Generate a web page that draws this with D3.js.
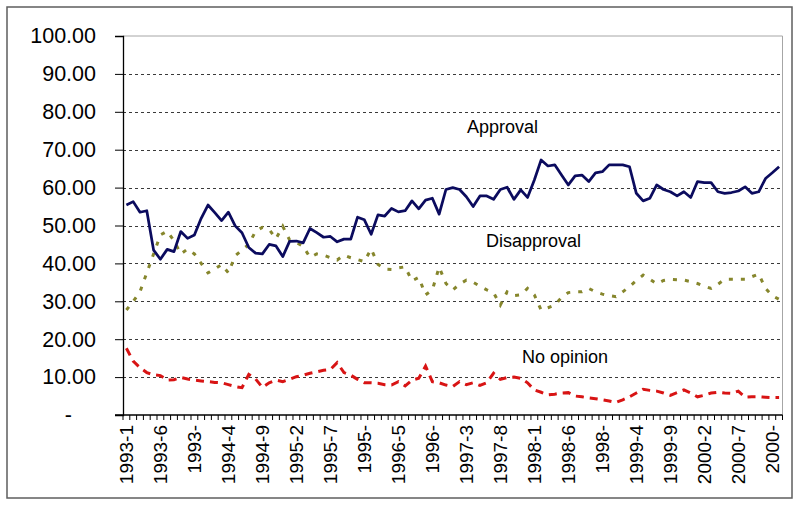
<!DOCTYPE html>
<html>
<head>
<meta charset="utf-8">
<script src="https://cdn.jsdelivr.net/npm/d3@7"></script>
<style>
  body { margin: 0; background: #fff; }
  text { font-family: "Liberation Sans", Arial, sans-serif; fill: #000; }
</style>
</head>
<body>
<div id="chart"></div>
<script>
// monthly categories from 1993-1, 97 of them
let categories = [];
for (let i = 0; i < 97; i++) {
  categories.push((1993 + Math.floor(i / 12)) + "-" + (i % 12 + 1));
}

// the labels excel actually shows (every 5th month, long ones clipped)
let tickLabels = ["1993-1", "1993-6", "1993-", "1994-4", "1994-9", "1995-2", "1995-7", "1995-",
  "1996-5", "1996-", "1997-3", "1997-8", "1998-1", "1998-6", "1998-", "1999-4", "1999-9",
  "2000-2", "2000-7", "2000-"];

let yTicks = [0, 10, 20, 30, 40, 50, 60, 70, 80, 90, 100];

let approval = [55.4, 56.3, 53.5, 53.9, 43.5, 41.1, 43.7, 43.1, 48.4, 46.6,
  47.5, 51.9, 55.4, 53.4, 51.3, 53.5, 49.9, 48.1, 44.2, 42.7,
  42.5, 45.0, 44.6, 41.8, 45.8, 45.9, 45.4, 49.2, 48.1, 46.9,
  47.1, 45.7, 46.4, 46.4, 52.2, 51.5, 47.7, 52.8, 52.5, 54.5,
  53.6, 53.9, 56.5, 54.4, 56.7, 57.2, 53.0, 59.5, 60.0, 59.5,
  57.6, 55.0, 57.8, 57.8, 56.9, 59.5, 60.1, 56.9, 59.4, 57.4,
  62.0, 67.3, 65.7, 66.0, 63.3, 60.7, 63.1, 63.3, 61.6, 63.9,
  64.2, 66.0, 66.0, 66.0, 65.5, 58.5, 56.5, 57.2, 60.7, 59.5,
  58.9, 57.8, 58.9, 57.4, 61.6, 61.3, 61.3, 58.9, 58.5, 58.7,
  59.1, 60.2, 58.5, 58.9, 62.4, 63.9, 65.5];

let disapproval = [27.7, 30.0, 32.5, 37.5, 42.5, 47.5, 48.5, 46.0, 42.5, 43.8,
  42.5, 40.0, 37.5, 38.5, 39.7, 37.5, 42.0, 43.5, 45.0, 48.5,
  49.5, 49.0, 46.5, 49.8, 46.2, 45.5, 44.5, 41.6, 42.5, 42.2,
  41.5, 40.9, 42.2, 41.5, 41.0, 40.5, 43.8, 39.8, 38.5, 38.4,
  38.8, 39.1, 35.4, 36.3, 31.7, 33.0, 39.0, 34.7, 33.0, 34.5,
  35.6, 35.0, 34.0, 33.0, 32.3, 29.0, 32.5, 31.5, 31.7, 33.4,
  31.7, 27.7, 28.3, 29.0, 31.0, 32.3, 32.5, 32.5, 33.4, 32.5,
  31.9, 31.5, 31.2, 32.5, 33.9, 35.5, 36.9, 35.8, 34.6, 35.5,
  35.8, 35.7, 35.6, 35.2, 34.7, 34.0, 33.4, 34.5, 35.8, 35.8,
  35.8, 35.8, 36.5, 37.2, 33.4, 31.5, 30.5];

let noOpinion = [17.6, 14.2, 12.5, 11.2, 10.6, 10.4, 9.2, 9.3, 9.9, 9.5,
  9.2, 9.0, 8.8, 8.6, 8.5, 8.0, 7.5, 7.2, 10.7, 9.5,
  7.3, 8.5, 9.2, 8.8, 9.4, 10.1, 10.5, 11.0, 11.4, 11.8,
  12.0, 13.8, 11.2, 10.5, 9.4, 8.5, 8.5, 8.4, 8.0, 7.9,
  8.8, 7.7, 9.2, 9.7, 12.9, 8.8, 8.5, 7.9, 7.5, 8.8,
  8.0, 8.5, 7.8, 8.5, 11.0, 9.4, 9.9, 10.0, 9.7, 8.5,
  6.6, 6.0, 5.3, 5.5, 5.8, 5.9, 5.0, 4.8, 4.5, 4.3,
  4.0, 3.7, 3.3, 4.0, 4.8, 5.8, 6.8, 6.5, 6.3, 5.8,
  5.2, 5.9, 6.6, 5.8, 4.8, 5.2, 5.8, 6.0, 5.8, 5.7,
  6.3, 4.7, 4.8, 4.8, 4.7, 4.6, 4.6];

let seriesNames = ["Approval", "Disapproval", "No opinion"];

let width = 800,
  height = 506;

let plot = { left: 123, right: 782.5, top: 36, bottom: 415 };

let svg = d3.select("#chart")
  .append("svg")
  .attr("width", width)
  .attr("height", height);

// outer chart frame
svg.append("rect")
  .attr("x", 7)
  .attr("y", 7)
  .attr("width", 785)
  .attr("height", 491)
  .attr("fill", "white")
  .attr("stroke", "#5e5e5e")
  .attr("stroke-width", 1.5);

var x = d3.scaleBand().domain(categories).range([plot.left, plot.right]);
var y = d3.scaleLinear().domain([0, 100]).range([plot.bottom, plot.top]);

// plot area border (grey, top and right)
svg.append("path")
  .attr("d", "M" + plot.left + "," + y(100) + "H" + plot.right + "V" + plot.bottom)
  .attr("fill", "none")
  .attr("stroke", "#a6a6a6")
  .attr("stroke-width", 1);

// dashed gridlines
svg.append("g")
  .selectAll("line")
  .data(yTicks.filter(d => d > 0 && d < 100))
  .join("line")
  .attr("x1", plot.left)
  .attr("x2", plot.right)
  .attr("y1", d => Math.round(y(d)) + 0.5)
  .attr("y2", d => Math.round(y(d)) + 0.5)
  .attr("stroke", "#3a3a3a")
  .attr("stroke-width", 1)
  .attr("stroke-dasharray", "3,3");

// y axis
let yAxis = svg.append("g")
  .attr("transform", "translate(" + plot.left + ",0)")
  .call(d3.axisLeft(y)
    .tickValues(yTicks)
    .tickSize(8)
    .tickPadding(19)
    .tickFormat(d => d === 0 ? "-" : d.toFixed(2)));
yAxis.select(".domain").attr("stroke", "#000").attr("stroke-width", 1.3);
yAxis.selectAll(".tick line").attr("stroke", "#000");
yAxis.selectAll(".tick text")
  .style("font-size", "21.5px")
  .attr("dx", d => d === 0 ? -24 : 0);

// x axis: ticks between categories, labels every 5th month
let xAxis = svg.append("g")
  .attr("transform", "translate(0," + plot.bottom + ")");
xAxis.append("line")
  .attr("x1", plot.left - 8)
  .attr("x2", plot.right)
  .attr("stroke", "#000")
  .attr("stroke-width", 1.3);
xAxis.selectAll(".minor")
  .data(categories.concat(["end"]))
  .join("line")
  .attr("class", "minor")
  .attr("x1", (d, i) => i < categories.length ? x(d) : plot.right)
  .attr("x2", (d, i) => i < categories.length ? x(d) : plot.right)
  .attr("y1", 0)
  .attr("y2", 5)
  .attr("stroke", "#000")
  .attr("stroke-width", 1);
xAxis.selectAll(".lab")
  .data(tickLabels)
  .join("text")
  .attr("class", "lab")
  .attr("transform", (d, i) => "translate(" + (x(categories[i * 5]) + x.bandwidth() / 2 + 6.5) + ",10) rotate(-90)")
  .attr("text-anchor", "end")
  .style("font-size", "19px")
  .text(d => d);

// lines
let line = d3.line()
  .x((d, i) => x(categories[i]) + x.bandwidth() / 2)
  .y(d => y(d));

svg.append("path")
  .datum(disapproval)
  .attr("d", line)
  .attr("fill", "none")
  .attr("stroke", "#86862c")
  .attr("stroke-width", 3)
  .attr("stroke-dasharray", "4,8");

svg.append("path")
  .datum(noOpinion)
  .attr("d", line)
  .attr("fill", "none")
  .attr("stroke", "#d81414")
  .attr("stroke-width", 3)
  .attr("stroke-dasharray", "8,6");

svg.append("path")
  .datum(approval)
  .attr("d", line)
  .attr("fill", "none")
  .attr("stroke", "#0b0b5e")
  .attr("stroke-width", 2.75)
  .attr("stroke-linejoin", "round");

// series labels placed inside the plot
let labelPos = [
  { x: 467, v: 74.4 },
  { x: 486, v: 44.25 },
  { x: 522, v: 13.6 }
];
svg.selectAll(".series-label")
  .data(seriesNames)
  .join("text")
  .attr("class", "series-label")
  .attr("x", (d, i) => labelPos[i].x)
  .attr("y", (d, i) => y(labelPos[i].v))
  .style("font-size", "18px")
  .text(d => d);
</script>
</body>
</html>
